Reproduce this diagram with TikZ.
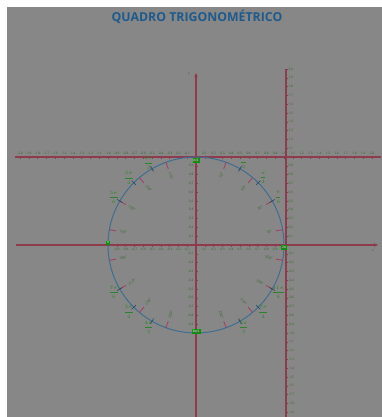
\documentclass[tikz,border=0pt]{standalone}
\usepackage{fontspec}
\setmainfont{Open Sans}
\usetikzlibrary{arrows.meta}
\definecolor{bg}{HTML}{878787}
\definecolor{axred}{HTML}{8E3B4D}
\definecolor{tickred}{HTML}{A33D62}
\definecolor{circblue}{HTML}{3E6E92}
\definecolor{lblgreen}{HTML}{2E6A24}
\definecolor{fracgreen}{HTML}{2C8428}
\definecolor{titleblue}{HTML}{1F5A8C}
\definecolor{boxgreen}{HTML}{2F7A2A}
\begin{document}
\begin{tikzpicture}[x=1pt,y=-1pt,
  axis/.style={draw=axred,line width=1.1pt},
  tickln/.style={draw=axred,line width=0.4pt},
  tiny/.style={font=\fontsize{3.2}{3.2}\selectfont,text=lblgreen,inner sep=0.3pt},
  fracl/.style={font=\fontsize{4.6}{5}\selectfont,text=fracgreen,inner sep=0pt},
  deg/.style={font=\fontsize{3.6}{3.6}\selectfont,text=lblgreen,inner sep=0pt},
  qbox/.style={font=\fontsize{3.2}{3.2}\selectfont,text=white,fill=boxgreen,draw=green!60!black,line width=0.3pt,inner sep=0.6pt},
  ttl/.style={font=\fontsize{12.3}{12.3}\selectfont\bfseries,text=titleblue,inner sep=0pt}]
\useasboundingbox (0,0) rectangle (382,417);
\fill[white] (0,0) rectangle (382,417);
\fill[bg] (7,7) rectangle (382,417);
\node[ttl] (title) at (197,17) {QUADRO TRIGONOMÉTRICO};

% key coordinates
\coordinate (C) at (196,245);
\coordinate (xl) at (16,245);
\coordinate (xr) at (378,245);
\coordinate (yb) at (196,417);
\coordinate (yt) at (196,73);
\coordinate (tt) at (286,69);
\coordinate (tb) at (286,417);
\coordinate (cl) at (15,157);
\coordinate (cr) at (381,157);

% ticks and labels: cotangent line (top)
\foreach \i in {1,...,20}{
  \pgfmathtruncatemacro{\ip}{int(\i/10)}
  \pgfmathtruncatemacro{\fp}{mod(\i,10)}
  \pgfmathsetmacro{\xp}{196+8.8*\i}
  \pgfmathsetmacro{\xn}{196-8.8*\i}
  \draw[tickln] (\xp,155.5) -- (\xp,158.5);
  \draw[tickln] (\xn,155.5) -- (\xn,158.5);
  \node[tiny,anchor=south] (cp\i) at (\xp,155) {\ip.\fp};
  \node[tiny,anchor=south] (cn\i) at (\xn,155) {-\ip.\fp};
}
% tangent line (right vertical)
\foreach \i in {1,...,20}{
  \pgfmathtruncatemacro{\ip}{int(\i/10)}
  \pgfmathtruncatemacro{\fp}{mod(\i,10)}
  \pgfmathsetmacro{\yp}{245-8.8*\i}
  \pgfmathsetmacro{\yn}{245+8.8*\i}
  \draw[tickln] (284.5,\yp) -- (287.5,\yp);
  \draw[tickln] (284.5,\yn) -- (287.5,\yn);
  \node[tiny,anchor=west] (tp\i) at (288,\yp) {\ip.\fp};
  \node[tiny,anchor=west] (tn\i) at (288,\yn) {-\ip.\fp};
}
% sine and cosine axes
\foreach \i in {1,...,9}{
  \pgfmathsetmacro{\yp}{245-8.8*\i}
  \pgfmathsetmacro{\yn}{245+8.8*\i}
  \pgfmathsetmacro{\xp}{196+8.8*\i}
  \pgfmathsetmacro{\xn}{196-8.8*\i}
  \draw[tickln] (194.5,\yp) -- (197.5,\yp);
  \draw[tickln] (194.5,\yn) -- (197.5,\yn);
  \draw[tickln] (\xp,243.5) -- (\xp,246.5);
  \draw[tickln] (\xn,243.5) -- (\xn,246.5);
  \node[tiny,anchor=east] (sp\i) at (194,\yp) {0.\i};
  \node[tiny,anchor=east] (sn\i) at (194,\yn) {-0.\i};
  \node[tiny,anchor=north] (kp\i) at (\xp,247.5) {0.\i};
  \node[tiny,anchor=north] (kn\i) at (\xn,247.5) {-0.\i};
}

% axes
\draw[axis] (cl) -- (cr);
\draw[axis] (tt) -- (tb);
\draw[axis,-{Stealth[length=4pt,width=3.5pt]}] (xl) -- (xr);
\draw[axis,-{Stealth[length=4pt,width=3.5pt]}] (yb) -- (yt);
\node[tiny] (xlab) at (373,251) {x};
\node[tiny] (ylab) at (189,74) {y};

% unit circle
\draw[circblue,line width=1pt] (C) circle[radius=88];

% red inner ticks with rotated degree labels
\foreach \a in {10,30,50,70,110,130,150,170,190,210,230,250,290,310,330,350}{
  \draw[tickred,line width=0.8pt] ({196+81*cos(\a)},{245-81*sin(\a)}) -- ({196+88*cos(\a)},{245-88*sin(\a)});
  \pgfmathsetmacro{\rot}{ifthenelse(cos(\a)<0,\a+180,\a)}
  \node[deg,rotate=\rot] (d\a) at ({196+74*cos(\a)},{245-74*sin(\a)}) {\a°};
}
% standard angle marks and fractions
\foreach \a/\nm/\dn in {30/\pi/6,45/\pi/4,60/\pi/3,120/2\pi/3,135/3\pi/4,150/5\pi/6,210/7\pi/6,225/5\pi/4,240/4\pi/3,300/5\pi/3,315/7\pi/4,330/11\pi/6}{
  \draw[circblue!60!black,line width=0.6pt] ({196+85*cos(\a)},{245-85*sin(\a)}) -- ({196+91*cos(\a)},{245-91*sin(\a)});
  \node[fracl] (f\a) at ({196+95*cos(\a)},{245-95*sin(\a)}) {$\displaystyle\frac{\nm}{\dn}$};
}
% quadrant boxes
\node[qbox] (q0) at (284,247) {2π};
\node[qbox] (q90) at (196,160) {π/2};
\node[qbox] (q180) at (108,243) {π};
\node[qbox] (q270) at (196,331) {3π/2};
\end{tikzpicture}
\end{document}
